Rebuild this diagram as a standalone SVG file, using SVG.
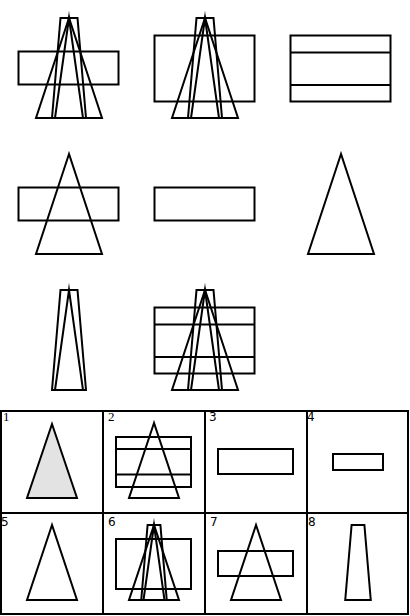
<svg xmlns="http://www.w3.org/2000/svg" width="410" height="616" viewBox="0 0 410 616">
<style>
.s{fill:none;stroke:#000;stroke-width:2}
.n{fill:none;stroke:#000;stroke-width:2;stroke-miterlimit:10}
.g{fill:none;stroke:#000;stroke-width:2}
.f{fill:#e3e3e3;stroke:#000;stroke-width:2}
.ls{font-family:"Liberation Serif",serif;font-size:13px;fill:#000}
.la{font-family:"DejaVu Sans",sans-serif;font-size:12px;fill:#000}
</style>
<rect width="410" height="616" fill="#fff"/>
<g id="r1c1">
<rect class="s" x="18.5" y="51.5" width="100" height="33"/>
<polygon class="s" points="69,18 36,118 102,118"/>
<polygon class="s" points="60.5,18 77.5,18 86,118 52,118"/>
<polygon class="n" points="69,18 55,118 83,118"/>
</g>
<g id="r1c2">
<rect class="s" x="154.5" y="35.5" width="100" height="66"/>
<polygon class="s" points="205,18 172,118 238,118"/>
<polygon class="s" points="196.5,18 213.5,18 222,118 188,118"/>
<polygon class="n" points="205,18 191,118 219,118"/>
</g>
<g id="r1c3">
<rect class="s" x="290.5" y="35.5" width="100" height="66"/>
<line class="s" x1="290.5" y1="52.5" x2="390.5" y2="52.5"/>
<line class="s" x1="290.5" y1="85" x2="390.5" y2="85"/>
</g>
<g id="r2c1">
<rect class="s" x="18.5" y="187.5" width="100" height="33"/>
<polygon class="s" points="69,154 36,254 102,254"/>
</g>
<g id="r2c2">
<rect class="s" x="154.5" y="187.5" width="100" height="33"/>
</g>
<g id="r2c3">
<polygon class="s" points="341,154 308,254 374,254"/>
</g>
<g id="r3c1">
<polygon class="s" points="60.5,290 77.5,290 86,390 52,390"/>
<polygon class="n" points="69,290 55,390 83,390"/>
</g>
<g id="r3c2">
<rect class="s" x="154.5" y="307.5" width="100" height="66"/>
<line class="s" x1="154.5" y1="324.5" x2="254.5" y2="324.5"/>
<line class="s" x1="154.5" y1="357" x2="254.5" y2="357"/>
<polygon class="s" points="205,290 172,390 238,390"/>
<polygon class="s" points="196.5,290 213.5,290 222,390 188,390"/>
<polygon class="n" points="205,290 191,390 219,390"/>
</g>
<g id="answers-grid">
<rect class="g" x="1" y="411" width="407" height="203"/>
<line class="g" x1="1" y1="513" x2="408" y2="513"/>
<line class="g" x1="103" y1="411" x2="103" y2="614"/>
<line class="g" x1="205" y1="411" x2="205" y2="614"/>
<line class="g" x1="307" y1="411" x2="307" y2="614"/>
</g>
<g id="opt1">
<text class="ls" x="3" y="421">1</text>
<polygon class="f" points="52,424 27,498 77,498"/>
</g>
<g id="opt2">
<text class="ls" x="108" y="421">2</text>
<rect class="s" x="116" y="437" width="75" height="50"/>
<line class="s" x1="116" y1="449" x2="191" y2="449"/>
<line class="s" x1="116" y1="474.5" x2="191" y2="474.5"/>
<polygon class="s" points="154,423 129,498 179,498"/>
</g>
<g id="opt3">
<text class="la" x="209" y="421">3</text>
<rect class="s" x="218" y="449" width="75" height="25"/>
</g>
<g id="opt4">
<text class="la" x="307" y="421">4</text>
<rect class="s" x="333" y="454" width="50" height="16"/>
</g>
<g id="opt5">
<text class="la" x="1" y="525.5">5</text>
<polygon class="s" points="52,525 27,600 77,600"/>
</g>
<g id="opt6">
<text class="la" x="108" y="525.5">6</text>
<rect class="s" x="116" y="539" width="75" height="50"/>
<polygon class="s" points="154,525 129,600 179,600"/>
<polygon class="s" points="147.6,525 160.4,525 166.75,600 141.25,600"/>
<polygon class="n" points="154,525 143.5,600 164.5,600"/>
</g>
<g id="opt7">
<text class="la" x="210" y="525.5">7</text>
<rect class="s" x="218" y="551" width="75" height="25"/>
<polygon class="s" points="256,525 231,600 281,600"/>
</g>
<g id="opt8">
<text class="la" x="308" y="525.5">8</text>
<polygon class="s" points="351.6,525 364.4,525 370.75,600 345.25,600"/>
</g>
</svg>
